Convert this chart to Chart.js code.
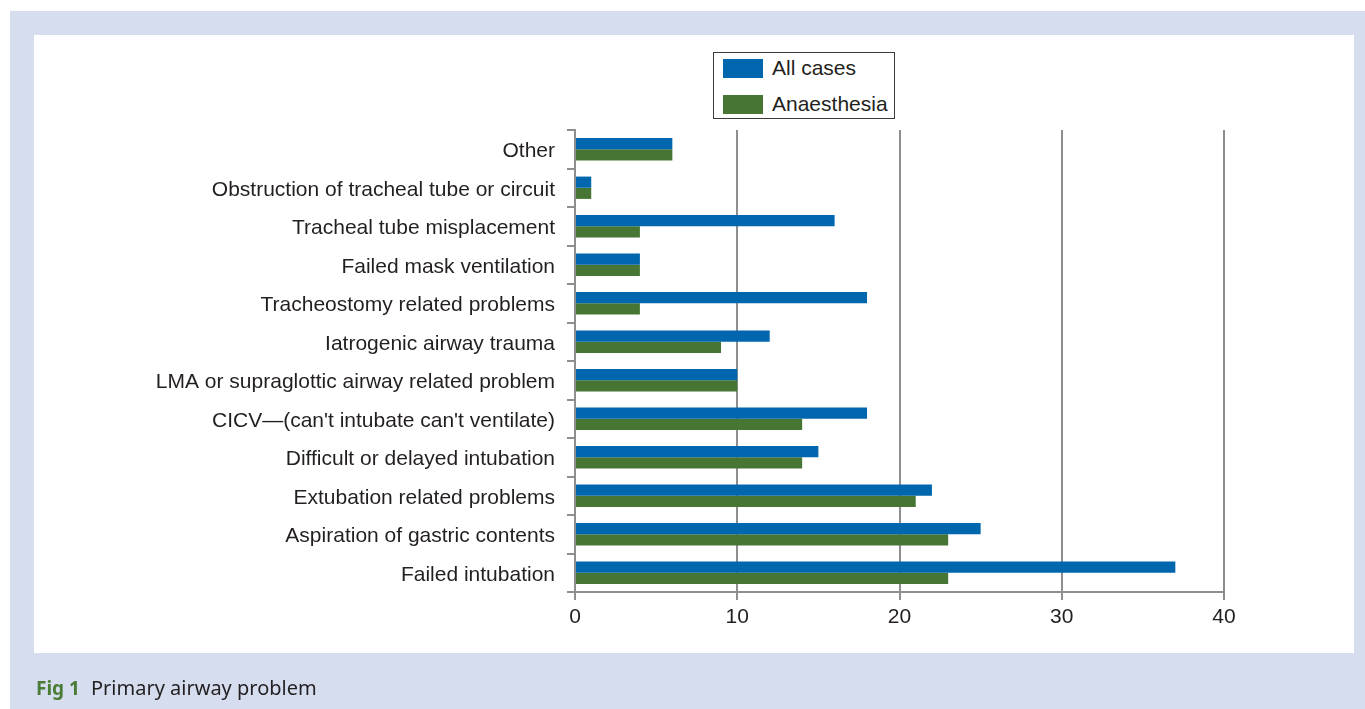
<!DOCTYPE html>
<html>
<head>
<meta charset="utf-8">
<script src="https://cdn.jsdelivr.net/npm/chart.js@4/dist/chart.umd.min.js"></script>
<style>
  html, body { margin: 0; padding: 0; background: #fff; }
  body { width: 1365px; height: 709px; position: relative; overflow: hidden;
         font-family: "Liberation Sans", Arial, sans-serif; }
  #frame { position: absolute; left: 10px; top: 11px; width: 1355px; height: 698px; background: #d5ddef; }
  #panel { position: absolute; left: 34px; top: 35px; width: 1320px; height: 618px; background: #fff; }
  #chart { position: absolute; left: 0; top: 0; }
  #legend { position: absolute; left: 713px; top: 52px; width: 182px; height: 67px;
            box-sizing: border-box; border: 1px solid #3a3a3a; background: #fff; }
  .item { position: absolute; left: 9px; height: 20px; display: flex; align-items: center;
          font-size: 21px; color: #231f20; white-space: nowrap; }
  .swatch { width: 40px; height: 19px; margin-right: 9px; }
  #caption { position: absolute; left: 36px; top: 674px; font-family: "Noto Sans", sans-serif;
             font-size: 20px; color: #231f20; }
  #caption b { color: #4a7c36; margin-right: 11px; font-size: 19px; }
</style>
</head>
<body>
<div id="frame"></div>
<div id="panel"></div>
<canvas id="chart" width="1365" height="709"></canvas>
<div id="legend"></div>
<div id="caption"><b>Fig 1</b>Primary airway problem</div>
<script>
  // Kategorien von oben nach unten, wie im Original.
  const categories = [
    'Other',
    'Obstruction of tracheal tube or circuit',
    'Tracheal tube misplacement',
    'Failed mask ventilation',
    'Tracheostomy related problems',
    'Iatrogenic airway trauma',
    'LMA or supraglottic airway related problem',
    "CICV\u2014(can't intubate can't ventilate)",
    'Difficult or delayed intubation',
    'Extubation related problems',
    'Aspiration of gastric contents',
    'Failed intubation',
  ];
  const allCases = [6, 1, 16, 4, 18, 12, 10, 18, 15, 22, 25, 37];
  const anaesthesia = [6, 1, 4, 4, 4, 9, 10, 14, 14, 21, 23, 23];
  const xTicks = [0, 10, 20, 30, 40];

  const BLUE = '#0066ae';
  const GREEN = '#477634';
  const AXIS = '#8e8e8e';
  const TEXT = '#231f20';

  const datasets = [
    { label: 'All cases', data: allCases, backgroundColor: BLUE },
    { label: 'Anaesthesia', data: anaesthesia, backgroundColor: GREEN },
  ];

  // Legende im HTML: gerahmte Box, Einträge untereinander.
  const legend = document.getElementById('legend');
  datasets.forEach((ds, i) => {
    const item = document.createElement('div');
    item.className = 'item';
    item.style.top = (5 + i * 36) + 'px';
    item.innerHTML = '<span class="swatch" style="background:' + ds.backgroundColor + '"></span>' + ds.label;
    legend.appendChild(item);
  });

  new Chart(document.getElementById('chart'), {
    type: 'bar',
    data: {
      labels: categories,
      datasets: datasets.map((ds) => ({
        ...ds,
        borderWidth: 0,
        barPercentage: 1,
        categoryPercentage: 0.58,
      })),
    },
    options: {
      indexAxis: 'y',
      responsive: false,
      animation: false,
      layout: { padding: { top: 130, left: 0, right: 141, bottom: 77 } },
      plugins: { legend: { display: false }, tooltip: { enabled: false } },
      scales: {
        x: {
          min: 0,
          max: 40,
          afterFit: (scale) => { scale.height = 40; },
          afterBuildTicks: (scale) => { scale.ticks = xTicks.map((v) => ({ value: v })); },
          grid: { color: AXIS, lineWidth: 2, tickLength: 8, drawTicks: true },
          border: { display: true, color: AXIS, width: 2 },
          ticks: { color: TEXT, padding: 5, font: { family: 'Liberation Sans', size: 21 } },
        },
        y: {
          afterFit: (scale) => { scale.width = 575; },
          grid: { color: AXIS, lineWidth: 2, tickLength: 8, drawOnChartArea: false, offset: true },
          border: { display: true, color: AXIS, width: 2 },
          ticks: { color: TEXT, padding: 12, labelOffset: 2, autoSkip: false,
                   font: { family: 'Liberation Sans', size: 21 } },
        },
      },
    },
  });
</script>
</body>
</html>
